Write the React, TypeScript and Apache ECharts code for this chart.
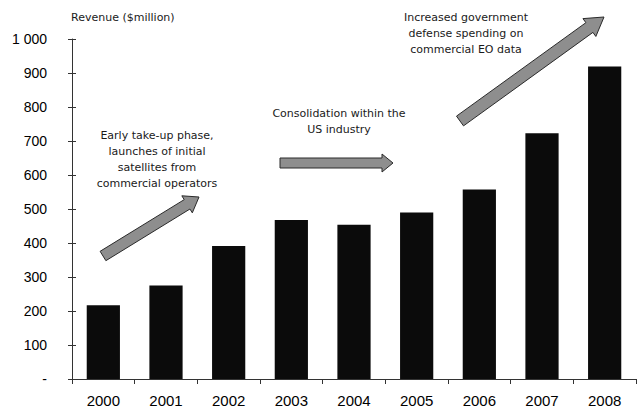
import React, { useEffect, useRef } from "react";
import * as echarts from "echarts";

const years = ["2000", "2001", "2002", "2003", "2004", "2005", "2006", "2007", "2008"];
const revenue = [217, 275, 391, 468, 454, 490, 557, 723, 919];
const yTicks = [0, 100, 200, 300, 400, 500, 600, 700, 800, 900, 1000];
const yTickLabels = ["-", "100", "200", "300", "400", "500", "600", "700", "800", "900", "1 000"];
const axisTitle = "Revenue ($million)";
const note1 = ["Early take-up phase,", "launches of initial", "satellites from", "commercial operators"];
const note2 = ["Consolidation within the", "US industry"];
const note3 = ["Increased government", "defense spending on", "commercial EO data"];

function arrowPts(x1: number, y1: number, x2: number, y2: number, shaft: number, head: number, headLen: number) {
  const dx = x2 - x1, dy = y2 - y1;
  const L = Math.hypot(dx, dy);
  const ux = dx / L, uy = dy / L;
  const nx = -uy, ny = ux;
  const bx = x2 - ux * headLen, by = y2 - uy * headLen;
  const s = shaft / 2, h = head / 2;
  return [
    [x1 + nx * s, y1 + ny * s],
    [bx + nx * s, by + ny * s],
    [bx + nx * h, by + ny * h],
    [x2, y2],
    [bx - nx * h, by - ny * h],
    [bx - nx * s, by - ny * s],
    [x1 - nx * s, y1 - ny * s],
  ];
}

const textFont = "Tahoma, 'DejaVu Sans', sans-serif";

function noteText(lines: string[], cx: number, top: number, lh: number) {
  return lines.map((t, i) => ({
    type: "text",
    x: cx,
    y: top + i * lh,
    style: {
      text: t,
      fill: "#1a1a1a",
      font: `11px ${textFont}`,
      textAlign: "center",
      textVerticalAlign: "middle",
    },
  }));
}

const arrowStyle = { fill: "#8e8e8e", stroke: "#2a2a2a", lineWidth: 1 };

export default function App() {
  const ref = useRef<HTMLDivElement>(null);
  useEffect(() => {
    if (!ref.current) return;
    const chart = echarts.init(ref.current, null, { renderer: "svg" });
    const labelFor = (v: number) => {
      const i = yTicks.indexOf(v);
      return i >= 0 ? yTickLabels[i] : String(v);
    };
    chart.setOption({
      animation: false,
      backgroundColor: "#ffffff",
      grid: { left: 72, right: 1, top: 39, bottom: 30, containLabel: false },
      xAxis: {
        type: "category",
        data: years,
        axisLine: { lineStyle: { color: "#333", width: 1 } },
        axisTick: { show: true, length: 5, lineStyle: { color: "#333" } },
        axisLabel: {
          color: "#000",
          fontSize: 15,
          fontFamily: "Arial, 'Liberation Sans', sans-serif",
          margin: 14,
        },
      },
      yAxis: [
        {
          type: "value",
          min: 0,
          max: 1000,
          interval: 100,
          splitLine: { show: false },
          axisLine: { show: true, lineStyle: { color: "#333", width: 1 } },
          axisTick: { show: true, length: 4, lineStyle: { color: "#333" } },
          axisLabel: {
            color: "#000",
            fontSize: 14,
            fontFamily: "Arial, 'Liberation Sans', sans-serif",
            margin: 25,
            formatter: labelFor,
          },
        },
        {
          type: "value",
          position: "left",
          min: 0,
          max: 1000,
          interval: 100,
          splitLine: { show: false },
          axisLine: { show: false },
          axisTick: { show: true, inside: true, length: 4, lineStyle: { color: "#333" } },
          axisLabel: { show: false },
        },
      ],
      series: [
        {
          type: "bar",
          data: revenue,
          barWidth: "53%",
          itemStyle: { color: "#0b0b0b" },
          yAxisIndex: 0,
        },
      ],
      graphic: [
        {
          type: "text",
          x: 71,
          y: 17,
          style: {
            text: axisTitle,
            fill: "#1a1a1a",
            font: `11px ${textFont}`,
            textAlign: "left",
            textVerticalAlign: "middle",
          },
        },
        ...noteText(note1, 157, 135, 16),
        ...noteText(note2, 339, 113, 16),
        ...noteText(note3, 466, 17, 16),
        { type: "polygon", shape: { points: arrowPts(103, 256, 199, 197, 11, 20, 14) }, style: arrowStyle },
        { type: "polygon", shape: { points: arrowPts(280, 163, 393, 163, 10, 18, 11) }, style: arrowStyle },
        { type: "polygon", shape: { points: arrowPts(460, 121, 604, 17, 12, 22, 18) }, style: arrowStyle },
      ],
    });
    return () => chart.dispose();
  }, []);
  return <div ref={ref} style={{ position: "fixed", left: 0, top: 0, width: 637, height: 409 }} />;
}
